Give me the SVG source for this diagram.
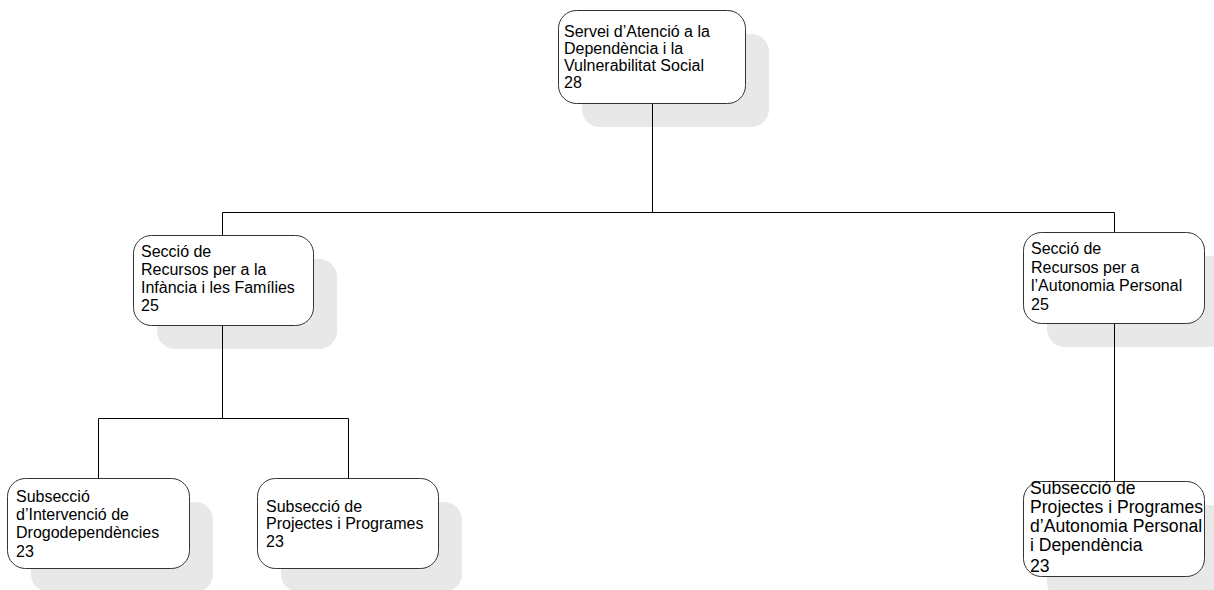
<svg xmlns="http://www.w3.org/2000/svg" width="1214" height="590" viewBox="0 0 1214 590">
<style>
.shadow{fill:#e8e8e8;stroke:none}
.box{fill:#ffffff;stroke:#333333;stroke-width:1}
.conn{stroke:#000000;stroke-width:1;fill:none}
text{font-family:"Liberation Sans",Arial,sans-serif;font-size:16px;fill:#000000}
.big{font-size:17.6px}
</style>
<rect width="1214" height="590" fill="#ffffff"/>
<g id="shadows">
<rect class="shadow" x="582" y="34" width="187" height="93" rx="18"/>
<rect class="shadow" x="157" y="259" width="180" height="90" rx="18"/>
<rect class="shadow" x="1047" y="256" width="181" height="91" rx="18"/>
<rect class="shadow" x="31" y="502" width="182" height="90" rx="18"/>
<rect class="shadow" x="281" y="502" width="181" height="90" rx="18"/>
<rect class="shadow" x="1047" y="505" width="181" height="95" rx="18"/>
</g>
<g id="connectors">
<path class="conn" d="M652.5,103 V212.5 M222.5,212.5 H1114.5 M222.5,212.5 V235 M1114.5,212.5 V232"/>
<path class="conn" d="M222.5,325 V418.5 M98.5,418.5 H348.5 M98.5,418.5 V478 M348.5,418.5 V478"/>
<path class="conn" d="M1114.5,323 V481"/>
</g>
<g id="n_servei">
<rect class="box" x="558.5" y="10.5" width="187" height="93" rx="18"/>
<text x="564" y="37">Servei d’Atenció a la</text>
<text x="564" y="54">Dependència i la</text>
<text x="564" y="71">Vulnerabilitat Social</text>
<text x="564" y="88">28</text>
</g>
<g id="n_infancia">
<rect class="box" x="133.5" y="235.5" width="180" height="90" rx="18"/>
<text x="141" y="257">Secció de</text>
<text x="141" y="275">Recursos per a la</text>
<text x="141" y="293">Infància i les Famílies</text>
<text x="141" y="311">25</text>
</g>
<g id="n_autonomia">
<rect class="box" x="1023.5" y="232.5" width="181" height="91" rx="18"/>
<text x="1031" y="254">Secció de</text>
<text x="1031" y="273">Recursos per a</text>
<text x="1031" y="291">l’Autonomia Personal</text>
<text x="1031" y="310">25</text>
</g>
<g id="n_drogo">
<rect class="box" x="7.5" y="478.5" width="182" height="90" rx="18"/>
<text x="16" y="502">Subsecció</text>
<text x="16" y="520">d’Intervenció de</text>
<text x="16" y="538">Drogodependències</text>
<text x="16" y="557">23</text>
</g>
<g id="n_projectes">
<rect class="box" x="257.5" y="478.5" width="181" height="90" rx="18"/>
<text x="266" y="512">Subsecció de</text>
<text x="266" y="529">Projectes i Programes</text>
<text x="266" y="547">23</text>
</g>
<g id="n_projectes_aut">
<rect class="box" x="1023.5" y="481.5" width="181" height="95" rx="18"/>
<text class="big" x="1030" y="494">Subsecció de</text>
<text class="big" x="1030" y="513">Projectes i Programes</text>
<text class="big" x="1030" y="532">d’Autonomia Personal</text>
<text class="big" x="1030" y="551">i Dependència</text>
<text class="big" x="1030" y="572">23</text>
</g>
</svg>
